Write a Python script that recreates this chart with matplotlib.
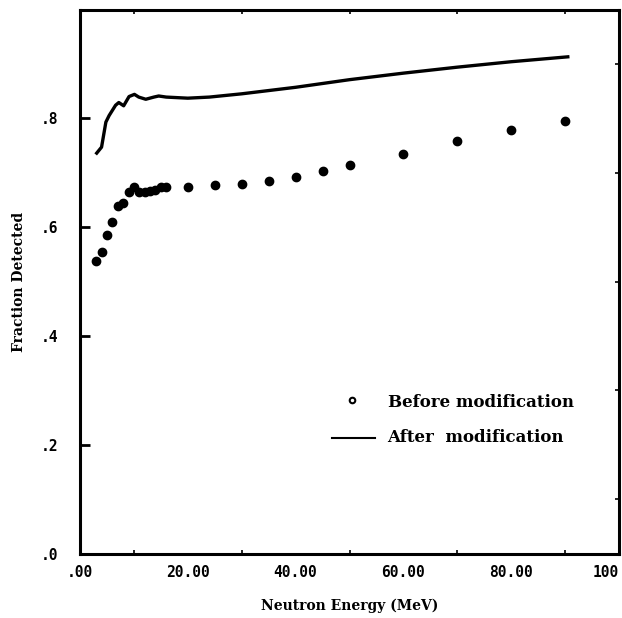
import matplotlib.pyplot as plt
import numpy as np

# Fraction detected vs neutron energy
energy_before = [3, 4, 5, 6, 7, 8, 9, 10, 11, 12, 13, 14, 15, 16,
                 20, 25, 30, 35, 40, 45, 50, 60, 70, 80, 90]
frac_before = [0.538, 0.554, 0.585, 0.609, 0.639, 0.644, 0.664, 0.673,
               0.665, 0.664, 0.666, 0.669, 0.673, 0.674,
               0.673, 0.678, 0.679, 0.685, 0.693, 0.703, 0.714,
               0.735, 0.759, 0.779, 0.795]

energy_after = [3.1, 4.0, 4.8, 5.4, 6.6, 7.2, 8.1, 9.1, 10.1, 10.9, 12.2,
                13.7, 14.6, 16, 18, 20, 24, 30, 40, 50, 60, 70, 80, 90.5]
frac_after = [0.736, 0.747, 0.793, 0.805, 0.824, 0.829, 0.823, 0.840,
              0.844, 0.839, 0.835, 0.839, 0.841, 0.839, 0.838, 0.837,
              0.839, 0.845, 0.857, 0.871, 0.883, 0.894, 0.904, 0.913]

xticks = [0, 20, 40, 60, 80, 100]
xtick_labels = [".00", "20.00", "40.00", "60.00", "80.00", "100"]
yticks = [0, 0.2, 0.4, 0.6, 0.8]
ytick_labels = [".0", ".2", ".4", ".6", ".8"]

fig = plt.figure(figsize=(6.22, 6.18), dpi=100)
ax = fig.add_axes([80 / 622, 64.5 / 618, 539 / 622, 544 / 618])

ax.plot(energy_before, frac_before, 'o', color='black', markersize=6)
ax.plot(energy_after, frac_after, '-', color='black', linewidth=2.4)

ax.set_xlim(0, 100)
ax.set_ylim(0, 1.0)

for s in ax.spines.values():
    s.set_linewidth(2.2)

mono = dict(family='DejaVu Sans Mono', weight='bold', size=10.5)
ax.set_xticks(xticks)
ax.set_xticklabels(xtick_labels, fontdict=mono)
ax.set_yticks(yticks)
ax.set_yticklabels(ytick_labels, fontdict=mono)
ax.xaxis.get_ticklabels()[-1].set_horizontalalignment('right')
ax.set_xticks(np.arange(10, 100, 10), minor=True)
ax.set_yticks(np.arange(0.1, 1.0, 0.1), minor=True)
ax.tick_params(which='major', direction='in', length=0, pad=8)
ax.tick_params(axis='y', which='major', length=7, width=2, pad=16)
ax.tick_params(which='minor', direction='in', length=3, width=1.2,
               top=True, right=True, bottom=True, left=False)

ax.set_xlabel("Neutron Energy (MeV)", family='DejaVu Serif', weight='bold',
              size=10, labelpad=14)
ax.set_ylabel("Fraction Detected", family='DejaVu Serif', weight='bold',
              size=10, labelpad=10)

# hand-drawn style key
ax.plot([0.505], [0.283], 'o', color='black', markersize=4, mfc='white',
        mew=1.5, transform=ax.transAxes)
ax.text(0.571, 0.277, "Before modification", transform=ax.transAxes,
        family='DejaVu Serif', weight='bold', size=12, va='center')
ax.plot([0.467, 0.548], [0.213, 0.213], '-', color='black', linewidth=1.5,
        transform=ax.transAxes)
ax.text(0.569, 0.213, "After  modification", transform=ax.transAxes,
        family='DejaVu Serif', weight='bold', size=12, va='center')

fig.savefig("out.png", dpi=100)
